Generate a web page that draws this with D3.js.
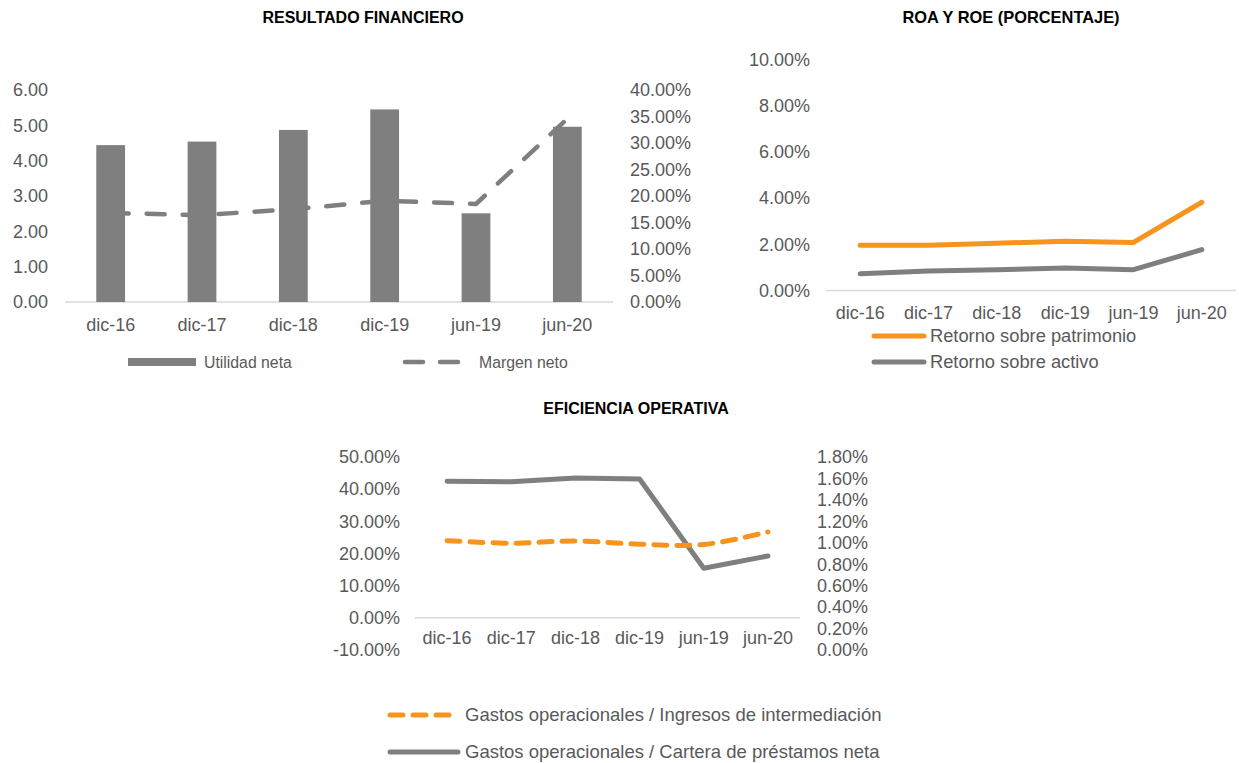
<!DOCTYPE html>
<html>
<head>
<meta charset="utf-8">
<script src="https://cdn.jsdelivr.net/npm/d3@7.9.0/dist/d3.min.js"></script>
<style>
  body { margin: 0; background: #fff; }
  svg { display: block; font-family: 'Liberation Sans', Arial, sans-serif; }
  .tick-label { fill: #595959; font-size: 18px; }
  .title { fill: #000; font-size: 16px; font-weight: bold; }
  .legend { fill: #595959; }
</style>
</head>
<body>
<svg id="chart" width="1239" height="763"></svg>
<script>
// Categories shared by all three charts
const periods = ['dic-16', 'dic-17', 'dic-18', 'dic-19', 'jun-19', 'jun-20'];

// Resultado financiero
const utilidadNeta = [4.44, 4.54, 4.87, 5.45, 2.51, 4.96];
const margenNeto = [0.168, 0.164, 0.175, 0.191, 0.185, 0.346];
const utilidadTicks = [0, 1, 2, 3, 4, 5, 6];
const margenTicks = [0, 0.05, 0.10, 0.15, 0.20, 0.25, 0.30, 0.35, 0.40];

// ROA y ROE
const roe = [0.0196, 0.0196, 0.0205, 0.0213, 0.0208, 0.0382];
const roa = [0.0072, 0.0084, 0.0090, 0.0097, 0.0090, 0.0177];
const roaTicks = [0, 0.02, 0.04, 0.06, 0.08, 0.10];

// Eficiencia operativa
const gastosIngresos = [0.240, 0.232, 0.239, 0.229, 0.228, 0.267];
const gastosCartera = [0.01574, 0.01570, 0.01604, 0.01595, 0.00762, 0.00877];
const eficLeftTicks = [-0.1, 0, 0.1, 0.2, 0.3, 0.4, 0.5];
const eficRightTicks = [0, 0.002, 0.004, 0.006, 0.008, 0.010, 0.012, 0.014, 0.016, 0.018];

const GRAY = '#7f7f7f';
const ORANGE = '#f7941d';
const GRID = '#d9d9d9';

const svg = d3.select('#chart');
// Excel style labels use a plain hyphen for negatives
const fmt2 = (d) => d3.format('.2f')(d).replace('\u2212', '-');
const pct2 = (d) => d3.format('.2%')(d).replace('\u2212', '-');

function tickLabels(g, ticks, scale, x, anchor, format) {
  g.selectAll(null)
    .data(ticks)
    .join('text')
    .attr('class', 'tick-label')
    .attr('x', x)
    .attr('y', (d) => scale(d))
    .attr('dy', '0.35em')
    .attr('text-anchor', anchor)
    .text(format);
}

function categoryLabels(g, xScale, y, offset) {
  g.selectAll(null)
    .data(periods)
    .join('text')
    .attr('class', 'tick-label')
    .attr('x', (d) => xScale(d) + offset)
    .attr('y', y)
    .attr('dy', '0.35em')
    .attr('text-anchor', 'middle')
    .text((d) => d);
}

// ---------- Chart 1: Resultado financiero ----------
function renderResultado() {
  const g = svg.append('g');
  const x = d3.scaleBand().domain(periods).range([65, 613])
    .paddingInner(0.685).paddingOuter(0.3425);
  const yL = d3.scaleLinear().domain([0, 6]).range([302, 90]);
  const yR = d3.scaleLinear().domain([0, 0.4]).range([302, 90]);
  const half = x.bandwidth() / 2;

  g.append('text').attr('class', 'title').attr('x', 363).attr('y', 17)
    .attr('dy', '0.35em').attr('text-anchor', 'middle').text('RESULTADO FINANCIERO');

  g.append('line').attr('x1', 65).attr('x2', 613).attr('y1', yL(0)).attr('y2', yL(0))
    .attr('stroke', GRID).attr('stroke-width', 1.5);

  g.selectAll('rect.bar')
    .data(utilidadNeta)
    .join('rect')
    .attr('class', 'bar')
    .attr('x', (d, i) => x(periods[i]))
    .attr('width', x.bandwidth())
    .attr('y', (d) => yL(d))
    .attr('height', (d) => yL(0) - yL(d))
    .attr('fill', GRAY);

  const line = d3.line()
    .x((d, i) => x(periods[i]) + half)
    .y((d) => yR(d));
  g.append('path').datum(margenNeto)
    .attr('d', line)
    .attr('fill', 'none')
    .attr('stroke', GRAY)
    .attr('stroke-width', 4.5)
    .attr('stroke-linecap', 'round')
    .attr('stroke-dasharray', '18 18');

  tickLabels(g, utilidadTicks, yL, 48, 'end', fmt2);
  tickLabels(g, margenTicks, yR, 630, 'start', pct2);
  categoryLabels(g, x, 325, half);

  // legend
  g.append('rect').attr('x', 128).attr('y', 358).attr('width', 68).attr('height', 8).attr('fill', GRAY);
  g.append('text').attr('class', 'legend').attr('x', 204).attr('y', 362).attr('dy', '0.35em')
    .style('font-size', '15.8px').text('Utilidad neta');
  g.append('line').attr('x1', 405).attr('x2', 458).attr('y1', 362).attr('y2', 362)
    .attr('stroke', GRAY).attr('stroke-width', 4.5).attr('stroke-linecap', 'round')
    .attr('stroke-dasharray', '18 17');
  g.append('text').attr('class', 'legend').attr('x', 479).attr('y', 362).attr('dy', '0.35em')
    .style('font-size', '15.8px').text('Margen neto');
}

// ---------- Chart 2: ROA y ROE ----------
function renderRoa() {
  const g = svg.append('g');
  const x = d3.scalePoint().domain(periods).range([826, 1236]).padding(0.5);
  const y = d3.scaleLinear().domain([0, 0.10]).range([290.5, 59.5]);

  g.append('text').attr('class', 'title').attr('x', 1011).attr('y', 17)
    .attr('dy', '0.35em').attr('text-anchor', 'middle')
    .style('font-size', '16.4px').text('ROA Y ROE (PORCENTAJE)');

  g.append('line').attr('x1', 826).attr('x2', 1236).attr('y1', y(0)).attr('y2', y(0))
    .attr('stroke', GRID).attr('stroke-width', 1.5);

  const line = d3.line().x((d, i) => x(periods[i])).y((d) => y(d));
  [[roa, GRAY], [roe, ORANGE]].forEach(([vals, color]) => {
    g.append('path').datum(vals).attr('d', line)
      .attr('fill', 'none').attr('stroke', color).attr('stroke-width', 5)
      .attr('stroke-linecap', 'round').attr('stroke-linejoin', 'round');
  });

  tickLabels(g, roaTicks, y, 810, 'end', pct2);
  categoryLabels(g, x, 313, 0);

  const legendItems = [['Retorno sobre patrimonio', ORANGE, 336], ['Retorno sobre activo', GRAY, 362]];
  legendItems.forEach(([label, color, ly]) => {
    g.append('line').attr('x1', 874).attr('x2', 924).attr('y1', ly).attr('y2', ly)
      .attr('stroke', color).attr('stroke-width', 5).attr('stroke-linecap', 'round');
    g.append('text').attr('class', 'legend').attr('x', 930).attr('y', ly).attr('dy', '0.35em')
      .style('font-size', '18.3px').text(label);
  });
}

// ---------- Chart 3: Eficiencia operativa ----------
function renderEficiencia() {
  const g = svg.append('g');
  const x = d3.scalePoint().domain(periods).range([415, 800]).padding(0.5);
  const yL = d3.scaleLinear().domain([-0.1, 0.5]).range([650, 457]);
  const yR = d3.scaleLinear().domain([0, 0.018]).range([650, 457]);

  g.append('text').attr('class', 'title').attr('x', 636).attr('y', 408)
    .attr('dy', '0.35em').attr('text-anchor', 'middle').text('EFICIENCIA OPERATIVA');

  g.append('line').attr('x1', 415).attr('x2', 800).attr('y1', yL(0)).attr('y2', yL(0))
    .attr('stroke', GRID).attr('stroke-width', 1.5);

  const lineR = d3.line().x((d, i) => x(periods[i])).y((d) => yR(d));
  g.append('path').datum(gastosCartera).attr('d', lineR)
    .attr('fill', 'none').attr('stroke', GRAY).attr('stroke-width', 5)
    .attr('stroke-linecap', 'round').attr('stroke-linejoin', 'round');

  const lineL = d3.line().x((d, i) => x(periods[i])).y((d) => yL(d))
    .curve(d3.curveCatmullRom.alpha(0.5));
  g.append('path').datum(gastosIngresos).attr('d', lineL)
    .attr('fill', 'none').attr('stroke', ORANGE).attr('stroke-width', 5)
    .attr('stroke-linecap', 'round').attr('stroke-dasharray', '13 10');

  tickLabels(g, eficLeftTicks, yL, 400, 'end', pct2);
  tickLabels(g, eficRightTicks, yR, 817, 'start', pct2);
  categoryLabels(g, x, 638, 0);

  g.append('line').attr('x1', 390).attr('x2', 452).attr('y1', 715).attr('y2', 715)
    .attr('stroke', ORANGE).attr('stroke-width', 5).attr('stroke-linecap', 'round')
    .attr('stroke-dasharray', '13 10');
  g.append('text').attr('class', 'legend').attr('x', 465).attr('y', 715).attr('dy', '0.35em')
    .style('font-size', '18.5px').text('Gastos operacionales / Ingresos de intermediación');
  g.append('line').attr('x1', 390).attr('x2', 458).attr('y1', 752).attr('y2', 752)
    .attr('stroke', GRAY).attr('stroke-width', 5).attr('stroke-linecap', 'round');
  g.append('text').attr('class', 'legend').attr('x', 465).attr('y', 752).attr('dy', '0.35em')
    .style('font-size', '18.5px').text('Gastos operacionales / Cartera de préstamos neta');
}

renderResultado();
renderRoa();
renderEficiencia();
</script>
</body>
</html>
